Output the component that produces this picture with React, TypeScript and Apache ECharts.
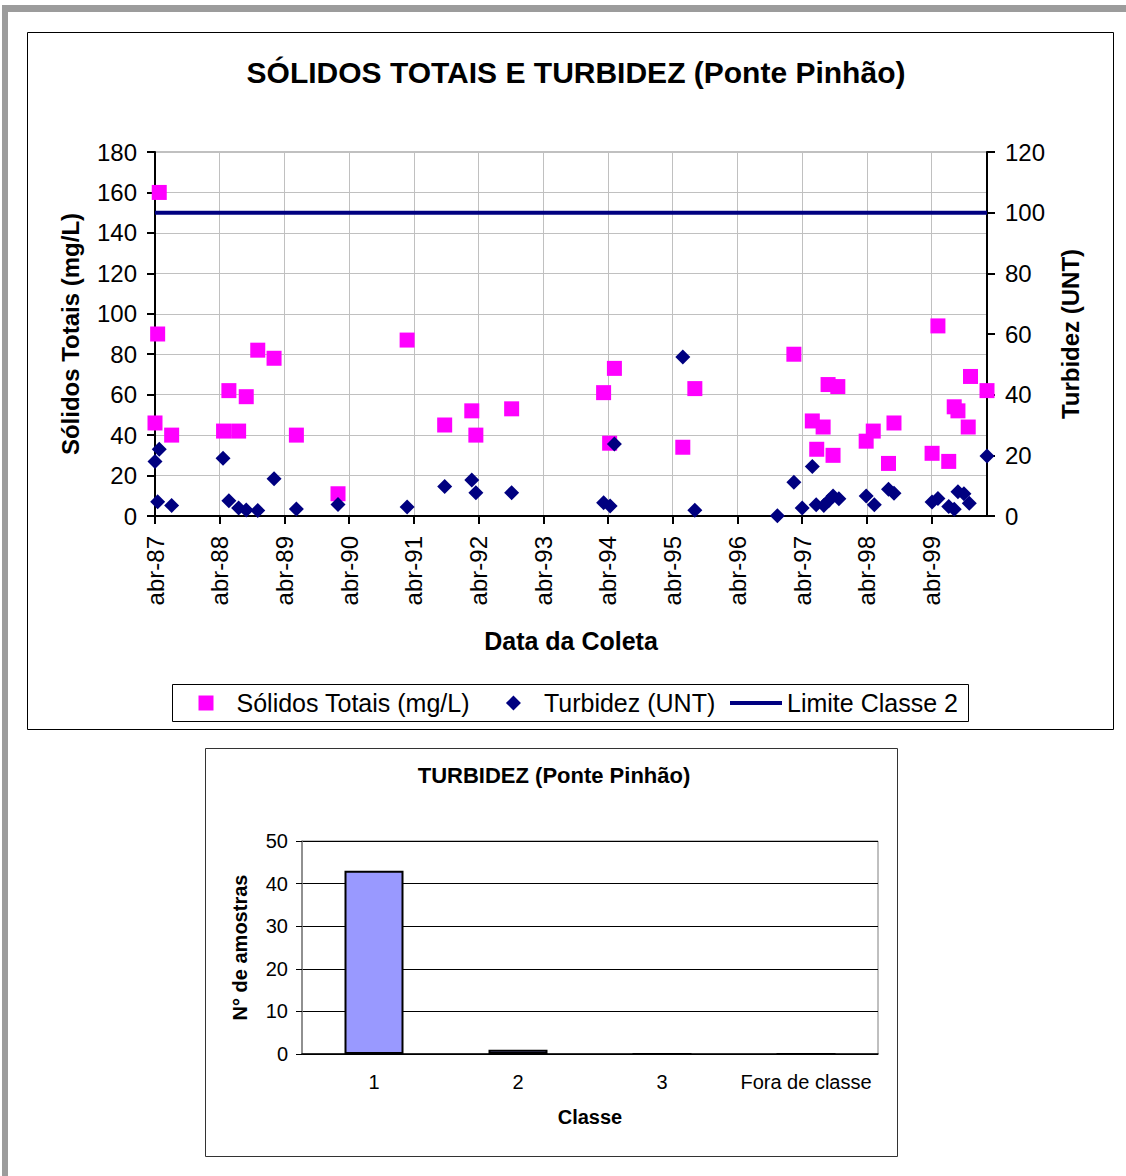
import React, { useEffect, useRef } from "react";
import * as echarts from "echarts";

// ---- data ----
const baseDate = "1987-04-01";
const solidosDates = [
  "1987-04-01", "1987-04-16", "1987-04-25", "1987-07-04", "1988-04-22", "1988-05-22",
  "1988-07-16", "1988-08-28", "1988-11-01", "1989-02-01", "1989-06-07", "1990-01-28",
  "1991-02-22", "1991-09-22", "1992-02-22", "1992-03-16", "1992-10-04", "1994-03-07",
  "1994-04-10", "1994-05-07", "1995-05-28", "1995-08-04", "1997-02-13", "1997-05-28",
  "1997-06-22", "1997-07-28", "1997-08-25", "1997-09-22", "1997-10-19", "1998-03-28",
  "1998-05-07", "1998-08-01", "1998-09-01", "1999-04-04", "1999-05-07", "1999-07-07",
  "1999-08-07", "1999-08-28", "1999-10-25", "1999-11-07", "2000-02-08",
];
const solidosValues = [
  46, 90, 160, 40, 42, 62, 42, 59, 82, 78, 40, 11, 87, 45, 52, 40, 53, 61, 36, 73, 34, 63,
  80, 47, 33, 44, 65, 30, 64, 37, 42, 26, 46, 31, 94, 27, 54, 52, 44, 69, 62,
];
const turbidezDates = [
  "1987-04-01", "1987-04-16", "1987-04-25", "1987-07-04", "1988-04-19", "1988-05-22",
  "1988-07-16", "1988-08-28", "1988-11-01", "1989-02-01", "1989-06-07", "1990-01-28",
  "1991-02-22", "1991-09-22", "1992-02-22", "1992-03-16", "1992-10-04", "1994-03-07",
  "1994-04-13", "1994-05-07", "1995-05-28", "1995-08-04", "1996-11-12", "1997-02-13",
  "1997-04-01", "1997-05-28", "1997-06-19", "1997-08-01", "1997-08-28", "1997-09-22",
  "1997-10-25", "1998-03-28", "1998-05-13", "1998-08-01", "1998-09-01", "1999-04-04",
  "1999-05-07", "1999-07-07", "1999-08-07", "1999-08-28", "1999-10-01", "1999-10-31",
  "2000-02-08",
];
const turbidezValues = [
  18, 4.7, 22, 3.5, 19, 5, 2.6, 2.0, 1.8, 12.3, 2.3, 3.8, 3.0, 9.7, 11.9, 7.7, 7.7, 4.4,
  3.3, 23.7, 52.4, 1.9, 0.1, 11.1, 2.6, 16.3, 3.7, 3.5, 5.0, 6.6, 5.7, 6.6, 3.7, 8.8, 7.5,
  4.6, 5.8, 3.1, 2.2, 8.0, 7.3, 4.2, 19.8,
];
const limiteClasse2 = 100;
const axisEndDate = "2000-02-08";

const classes = ["1", "2", "3", "Fora de classe"];
const amostras = [43, 1, 0, 0];

const FONT = "'Liberation Sans', Arial, sans-serif";

function months(d: string): number {
  const [y, m, dd] = d.split("-").map(Number);
  const [by, bm, bd] = baseDate.split("-").map(Number);
  return (Date.UTC(y, m - 1, dd) - Date.UTC(by, bm - 1, bd)) / (86400000 * 30.4375);
}

export default function App() {
  const ref = useRef<HTMLDivElement>(null);
  useEffect(() => {
    if (!ref.current) return;
    const chart = echarts.init(ref.current, undefined, { renderer: "svg" });
    const xMax = months(axisEndDate);
    const legendText = { fontFamily: FONT, fontSize: 25, color: "#000" };
    const option: any = {
      animation: false,
      backgroundColor: "#ffffff",
      textStyle: { fontFamily: FONT, color: "#000" },
      graphic: [
        { type: "rect", shape: { x: 2, y: 5, width: 1124, height: 7 }, style: { fill: "#9c9c9c" }, z: -10 },
        { type: "rect", shape: { x: 2, y: 5, width: 6, height: 1171 }, style: { fill: "#9c9c9c" }, z: -10 },
        { type: "rect", shape: { x: 27.5, y: 32.5, width: 1086, height: 697 }, style: { fill: "#fff", stroke: "#000", lineWidth: 1 }, z: -9 },
        { type: "rect", shape: { x: 205.5, y: 748.5, width: 692, height: 408 }, style: { fill: "#fff", stroke: "#333", lineWidth: 1 }, z: -9 },
        { type: "rect", shape: { x: 172.5, y: 684.5, width: 796, height: 37 }, style: { fill: "none", stroke: "#000", lineWidth: 1 }, z: 1 },
      ],
      title: [
        {
          text: "SÓLIDOS TOTAIS E TURBIDEZ (Ponte Pinhão)",
          left: 571, top: 52, textAlign: "center",
          textStyle: { fontFamily: FONT, fontSize: 30, fontWeight: "bold", color: "#000" },
        },
        {
          text: "TURBIDEZ (Ponte Pinhão)",
          left: 549, top: 759, textAlign: "center",
          textStyle: { fontFamily: FONT, fontSize: 22, fontWeight: "bold", color: "#000" },
        },
      ],
      legend: [
        {
          data: ["Sólidos Totais (mg/L)", "Turbidez (UNT)"],
          left: 198.5, top: 690.5, padding: 0,
          itemWidth: 15, itemHeight: 15, itemGap: 36,
          textStyle: { ...legendText, padding: [0, 0, 0, 18] },
        },
        {
          data: [{ name: "Limite Classe 2", icon: "rect" }],
          left: 730, top: 690.5, padding: 0,
          itemWidth: 52, itemHeight: 4, itemGap: 10,
          textStyle: { ...legendText, padding: [0, 0, 0, 0] },
        },
      ],
      grid: [
        { left: 155, top: 152, width: 832, height: 364, show: true, borderColor: "#808080", borderWidth: 1 },
        { left: 302, top: 841, width: 576, height: 213, show: true, borderColor: "#808080", borderWidth: 1 },
      ],
      xAxis: [
        {
          type: "value", gridIndex: 0, min: 0, max: xMax, interval: 12,
          name: "Data da Coleta", nameLocation: "middle", nameGap: 112,
          nameTextStyle: { fontFamily: FONT, fontSize: 25, fontWeight: "bold", color: "#000" },
          axisLine: { lineStyle: { color: "#000", width: 2 } },
          axisTick: { length: 8, lineStyle: { color: "#000", width: 2 } },
          axisLabel: {
            rotate: 90, margin: 20, fontSize: 24, color: "#000", fontFamily: FONT, showMaxLabel: false,
            formatter: (v: number) => {
              const r = Math.round(v);
              if (Math.abs(v - r) > 0.01 || r % 12 !== 0) return "";
              const yy = (87 + r / 12) % 100;
              return "abr-" + String(yy).padStart(2, "0");
            },
          },
          splitLine: { show: true, lineStyle: { color: "#c0c0c0", width: 1 } },
        },
        {
          type: "category", gridIndex: 1, data: classes,
          name: "Classe", nameLocation: "middle", nameGap: 53,
          nameTextStyle: { fontFamily: FONT, fontSize: 20, fontWeight: "bold", color: "#000" },
          axisLine: { lineStyle: { color: "#000", width: 1.5 } },
          axisTick: { length: 6, lineStyle: { color: "#000" } },
          axisLabel: { interval: 0, margin: 18, fontSize: 20, color: "#000", fontFamily: FONT },
          splitLine: { show: false },
        },
      ],
      yAxis: [
        {
          type: "value", gridIndex: 0, min: 0, max: 180, interval: 20, position: "left",
          name: "Sólidos Totais (mg/L)", nameLocation: "middle", nameRotate: 90, nameGap: 73,
          nameTextStyle: { fontFamily: FONT, fontSize: 24, fontWeight: "bold", color: "#000" },
          axisLine: { show: true, lineStyle: { color: "#000", width: 2 } },
          axisTick: { show: true, length: 8, lineStyle: { color: "#000", width: 2 } },
          axisLabel: { margin: 18, fontSize: 24, color: "#000", fontFamily: FONT },
          splitLine: { show: true, lineStyle: { color: "#c0c0c0", width: 1 } },
        },
        {
          type: "value", gridIndex: 0, min: 0, max: 120, interval: 20, position: "right",
          name: "Turbidez (UNT)", nameLocation: "middle", nameRotate: 90, nameGap: 71,
          nameTextStyle: { fontFamily: FONT, fontSize: 24, fontWeight: "bold", color: "#000" },
          axisLine: { show: true, lineStyle: { color: "#000", width: 2 } },
          axisTick: { show: true, length: 8, lineStyle: { color: "#000", width: 2 } },
          axisLabel: { margin: 18, fontSize: 24, color: "#000", fontFamily: FONT },
          splitLine: { show: false },
        },
        {
          type: "value", gridIndex: 1, min: 0, max: 50, interval: 10,
          name: "N° de amostras", nameLocation: "middle", nameRotate: 90, nameGap: 52,
          nameTextStyle: { fontFamily: FONT, fontSize: 20, fontWeight: "bold", color: "#000" },
          axisLine: { show: true, lineStyle: { color: "#808080", width: 1.5 } },
          axisTick: { show: true, length: 6, lineStyle: { color: "#000" } },
          axisLabel: { margin: 14, fontSize: 20, color: "#000", fontFamily: FONT },
          splitLine: { show: true, lineStyle: { color: "#000", width: 1 } },
        },
      ],
      series: [
        {
          name: "Sólidos Totais (mg/L)", type: "scatter", xAxisIndex: 0, yAxisIndex: 0,
          symbol: "rect", symbolSize: 15, itemStyle: { color: "#FF00FF", opacity: 1 },
          data: solidosDates.map((d, i) => [months(d), solidosValues[i]]),
          z: 3,
        },
        {
          name: "Turbidez (UNT)", type: "scatter", xAxisIndex: 0, yAxisIndex: 1,
          symbol: "diamond", symbolSize: 15, itemStyle: { color: "#000080", opacity: 1 },
          data: turbidezDates.map((d, i) => [months(d), turbidezValues[i]]),
          z: 4,
        },
        {
          name: "Limite Classe 2", type: "line", xAxisIndex: 0, yAxisIndex: 1,
          symbol: "none", lineStyle: { color: "#000080", width: 4 }, itemStyle: { color: "#000080" },
          data: [[0, limiteClasse2], [xMax, limiteClasse2]],
          z: 5,
        },
        {
          name: "amostras", type: "bar", xAxisIndex: 1, yAxisIndex: 2,
          barWidth: 59,
          itemStyle: { color: "#9999FF", borderColor: "#000", borderWidth: 2 },
          data: amostras,
        },
      ],
    };
    chart.setOption(option);
    return () => chart.dispose();
  }, []);
  return (
    <div
      ref={ref}
      style={{ position: "absolute", left: 0, top: 0, width: 1126, height: 1176, background: "#fff" }}
    />
  );
}
